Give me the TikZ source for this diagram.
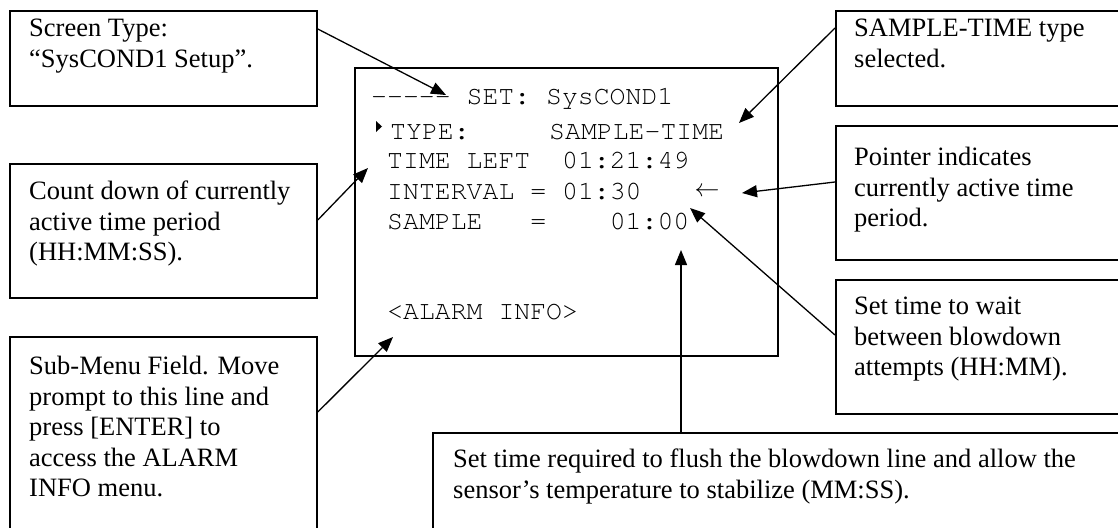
\documentclass[tikz,border=0pt]{standalone}
\usepackage[T1]{fontenc}
\usepackage{fontspec}
\setmainfont{Liberation Serif}
\usepackage{tikz}
\usetikzlibrary{arrows.meta, positioning}
\newcommand{\lcdfont}{\fontencoding{T1}\fontfamily{pcr}\fontseries{m}\fontshape{n}\fontsize{26.5pt}{30.5pt}\selectfont}

\begin{document}
\begin{tikzpicture}[x=1pt, y=-1pt]
	% Styles
	\tikzstyle{callout} = [draw, line width=1.8pt, rectangle, inner sep=0pt, anchor=north west]
	\tikzstyle{note} = [inner sep=0pt, anchor=north west, align=left, font=\fontsize{26.5pt}{30.5pt}\selectfont]
	\tikzstyle{lcd} = [inner sep=0pt, anchor=base west, font=\lcdfont]
	\tikzstyle{arrow} = [line width=1.3pt, -{Triangle[length=15pt, width=12pt]}]

	\useasboundingbox (0,0) rectangle (1118,527);
	\clip (0,0) rectangle (1118,527);

	% Boxes with absolute coordinates
	\node (screentype) [callout, minimum width=307pt, minimum height=95pt] at (9,10) {};
	\node (countdown) [callout, minimum width=307pt, minimum height=134pt] at (9,163) {};
	\node (submenu) [callout, minimum width=307pt, minimum height=210pt] at (9,336) {};
	\node (screen) [callout, minimum width=423pt, minimum height=288pt] at (354,67) {};
	\node (typebox) [callout, minimum width=300pt, minimum height=95pt] at (835,10) {};
	\node (pointerbox) [callout, minimum width=300pt, minimum height=134pt] at (835,125) {};
	\node (waitbox) [callout, minimum width=300pt, minimum height=134pt] at (835,279) {};
	\node (flushbox) [callout, minimum width=700pt, minimum height=120pt] at (432,432) {};

	% Box texts
	\node (screentypetext) [note, below right=9pt and 20pt of screentype.north west] {Screen Type:\\“SysCOND1 Setup”.};
	\node (countdowntext) [note, below right=18pt and 20pt of countdown.north west] {Count down of currently\\active time period\\(HH:MM:SS).};
	\node (submenutext) [note, below right=20pt and 20pt of submenu.north west] {Sub-Menu Field. Move\\prompt to this line and\\press [ENTER] to\\access the ALARM\\INFO menu.};
	\node (typetext) [note, below right=9pt and 19pt of typebox.north west] {SAMPLE-TIME type\\selected.};
	\node (pointertext) [note, below right=22pt and 19pt of pointerbox.north west] {Pointer indicates\\currently active time\\period.};
	\node (waittext) [note, below right=18pt and 19pt of waitbox.north west] {Set time to wait\\between blowdown\\attempts (HH:MM).};
	\node (flushtext) [note, below right=17pt and 21pt of flushbox.north west] {Set time required to flush the blowdown line and allow the\\sensor’s temperature to stabilize (MM:SS).};

	% Screen lines
	\node (title) [lcd] at (371,104) {{-}{-}{-}{-}{-}\ SET:\ SysCOND1};
	\node (typeline) [lcd] at (390,139) {TYPE:\ \ \ \ \ SAMPLE-TIME};
	\node (leftline) [lcd] at (387,168) {TIME\ LEFT\ \ 01:21:49};
	\node (intervalline) [lcd] at (387,199) {INTERVAL\ =\ 01:30};
	\node (sampleline) [lcd] at (387,229) {SAMPLE\ \ \ =\ \ \ \ 01:00};
	\node (alarmline) [lcd] at (387,319) {<ALARM\ INFO>};
	\node (mark) [inner sep=0pt, font=\fontsize{26.5pt}{30.5pt}\selectfont] at (707,192) {$\leftarrow$};
	\fill (376,121) -- (382,126.5) -- (376,132) -- cycle;

	% Arrow tips
	\coordinate (dashend) at (446,95);
	\coordinate (typeend) at (739,123);
	\coordinate (leftend) at (368,168);
	\coordinate (markend) at (742,193);
	\coordinate (sampleend) at (681,250);
	\coordinate (intervalend) at (690,208);
	\coordinate (alarmend) at (393,337);

	% Connections
	\draw [arrow] ([yshift=-19pt]screentype.north east) -- (dashend);
	\draw [arrow] ([yshift=-57pt]countdown.north east) -- (leftend);
	\draw [arrow] ([yshift=-76pt]submenu.north east) -- (alarmend);
	\draw [arrow] ([yshift=-18pt]typebox.north west) -- (typeend);
	\draw [arrow] ([yshift=-57pt]pointerbox.north west) -- (markend);
	\draw [arrow] ([yshift=-56pt]waitbox.north west) -- (intervalend);
	\draw [arrow] ([xshift=249pt]flushbox.north west) -- (sampleend);

\end{tikzpicture}
\end{document}
